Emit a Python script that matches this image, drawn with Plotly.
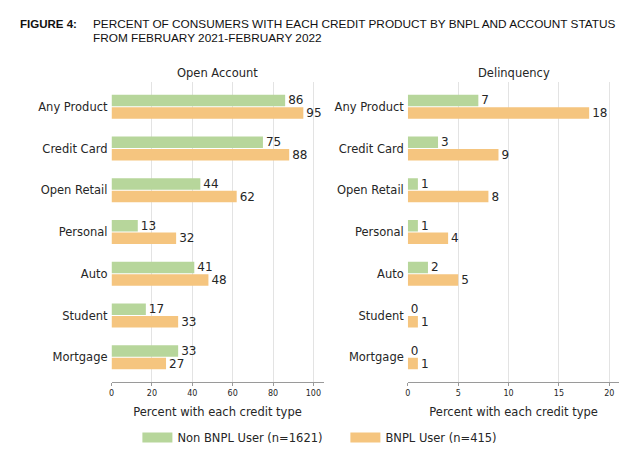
import plotly.graph_objects as go

categories = ["Any Product", "Credit Card", "Open Retail", "Personal", "Auto", "Student", "Mortgage"]
open_non_bnpl = [86, 75, 44, 13, 41, 17, 33]
open_bnpl = [95, 88, 62, 32, 48, 33, 27]
delinq_non_bnpl = [7, 3, 1, 1, 2, 0, 0]
delinq_bnpl = [18, 9, 8, 4, 5, 1, 1]
open_ticks = [0, 20, 40, 60, 80, 100]
delinq_ticks = [0, 5, 10, 15, 20]
series_names = ["Non BNPL User (n=1621)", "BNPL User (n=415)"]
panel_titles = ["Open Account", "Delinquency"]
title_lines = ["PERCENT OF CONSUMERS WITH EACH CREDIT PRODUCT BY BNPL AND ACCOUNT STATUS",
               "FROM FEBRUARY 2021-FEBRUARY 2022"]

GREEN = "#b7d69b"
ORANGE = "#f5c57f"
TXT = "#262626"
FONT = "DejaVu Sans"

# page has an 8px body margin; size the figure so window coordinates match
OFF = 8
W, H = 640 - OFF, 458 - OFF
fig = go.Figure()

def add_bars(vals, color, xa, ya):
    fig.add_trace(go.Bar(
        x=vals, y=categories, orientation="h",
        marker=dict(color=color, line=dict(width=0)),
        text=[str(v) for v in vals], textposition="outside",
        constraintext="none", cliponaxis=False,
        textfont=dict(family=FONT, size=12, color=TXT),
        xaxis=xa, yaxis=ya, showlegend=False, hoverinfo="skip",
    ))

add_bars(open_non_bnpl, GREEN, "x", "y")
add_bars(open_bnpl, ORANGE, "x", "y")
add_bars(delinq_non_bnpl, GREEN, "x2", "y2")
add_bars(delinq_bnpl, ORANGE, "x2", "y2")

# legend entries
for name, col in zip(series_names, [GREEN, ORANGE]):
    fig.add_trace(go.Scatter(x=[None], y=[None], mode="lines", name=name,
                             line=dict(color=col, width=13), xaxis="x", yaxis="y"))

px = lambda p: (p - OFF) / W
py = lambda p: (458 - p) / H

y_top, y_bot = 81.7, 382.3
xdom1 = [px(109), px(322)]
xdom2 = [px(406.7), px(619.3)]

xcommon = dict(showgrid=True, gridcolor="#e3e3e3", gridwidth=1, zeroline=False,
               showline=True, linecolor="#9a9a9a", linewidth=1,
               ticks="outside", ticklen=3, tickcolor="#9a9a9a",
               tickfont=dict(family=FONT, size=8, color=TXT),
               title=dict(text="Percent with each credit type",
                          font=dict(family=FONT, size=11.5, color=TXT), standoff=11))
ycommon = dict(type="category", categoryorder="array", categoryarray=categories,
               range=[6.6, -0.6], showgrid=False, zeroline=False, showline=False,
               ticks="", ticklabelstandoff=3,
               tickfont=dict(family=FONT, size=11.5, color=TXT),
               domain=[py(y_bot), py(y_top)])

fig.update_layout(
    width=W, height=H,
    margin=dict(l=0, r=0, t=0, b=0),
    paper_bgcolor="white", plot_bgcolor="white",
    barmode="group", bargap=0.4, bargroupgap=0.08,
    xaxis=dict(xcommon, domain=xdom1, range=[0, 105], tickvals=open_ticks, anchor="y"),
    yaxis=dict(ycommon, anchor="x"),
    xaxis2=dict(xcommon, domain=xdom2, range=[0, 21], tickvals=delinq_ticks, anchor="y2"),
    yaxis2=dict(ycommon, anchor="x2"),
    legend=dict(orientation="h", x=px(135), xanchor="left", y=py(437.5), yanchor="middle",
                font=dict(family=FONT, size=11.5, color=TXT), entrywidth=163,
                itemwidth=30, bgcolor="rgba(0,0,0,0)"),
    showlegend=True,
)

ann = []
for t, dom in zip(panel_titles, [xdom1, xdom2]):
    ann.append(dict(text=t, x=(dom[0] + dom[1]) / 2, y=py(73), xref="paper", yref="paper",
                    xanchor="center", yanchor="middle", showarrow=False,
                    font=dict(family=FONT, size=11.5, color=TXT)))
ann.append(dict(text="<b>FIGURE 4:</b>", x=px(15), y=py(24), xref="paper", yref="paper",
                xanchor="left", yanchor="middle", showarrow=False,
                font=dict(family="Liberation Sans", size=11.5, color="#111111")))
for line, yy in zip(title_lines, [24, 37.5]):
    ann.append(dict(text=line, x=px(88), y=py(yy), xref="paper", yref="paper", align="left",
                    xanchor="left", yanchor="middle", showarrow=False,
                    font=dict(family="Liberation Sans", size=11.8, color="#111111")))
fig.update_layout(annotations=ann)

fig.write_html("out.html")
